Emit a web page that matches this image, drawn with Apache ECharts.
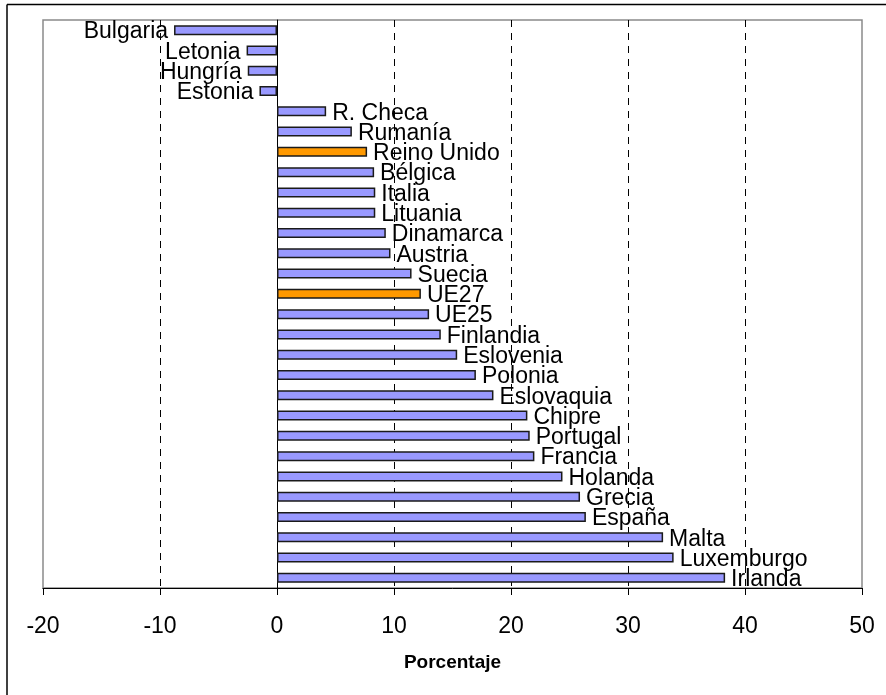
<!DOCTYPE html>
<html>
<head>
<meta charset="utf-8">
<script src="https://cdn.jsdelivr.net/npm/echarts@6/dist/echarts.min.js"></script>
<style>
  html, body { margin: 0; padding: 0; background: #fff; }
  #chart { width: 886px; height: 695px; }
</style>
</head>
<body>
<div id="chart"></div>
<script>
// Countries, top to bottom
const countries = [
  'Bulgaria', 'Letonia', 'Hungría', 'Estonia', 'R. Checa', 'Rumanía',
  'Reino Unido', 'Bélgica', 'Italia', 'Lituania', 'Dinamarca', 'Austria',
  'Suecia', 'UE27', 'UE25', 'Finlandia', 'Eslovenia', 'Polonia',
  'Eslovaquia', 'Chipre', 'Portugal', 'Francia', 'Holanda', 'Grecia',
  'España', 'Malta', 'Luxemburgo', 'Irlanda'
];

// Percentage per country (same order)
const percentages = [
  -8.8, -2.6, -2.5, -1.5, 4.2, 6.4,
  7.7, 8.3, 8.4, 8.4, 9.3, 9.7,
  11.5, 12.3, 13.0, 14.0, 15.4, 17.0,
  18.5, 21.4, 21.6, 22.0, 24.4, 25.9,
  26.4, 33.0, 33.9, 38.3
];

// Bars drawn in the highlight colour
const highlighted = ['Reino Unido', 'UE27'];

// Value axis ticks
const axisMin = -20;
const axisMax = 50;
const axisStep = 10;
const axisTitle = 'Porcentaje';

const chart = echarts.init(document.getElementById('chart'));

const barData = percentages.map((v, i) => ({
  value: v,
  itemStyle: { color: highlighted.includes(countries[i]) ? '#FF9900' : '#9999FF' },
  label: { position: v < 0 ? 'left' : 'right' }
}));

chart.setOption({
  animation: false,
  backgroundColor: '#ffffff',
  grid: {
    left: 43, right: 24, top: 20, bottom: 107,
    show: true,
    borderColor: '#8a8a8a',
    borderWidth: 1.5,
    containLabel: false
  },
  xAxis: {
    type: 'value',
    min: axisMin, max: axisMax, interval: axisStep,
    name: axisTitle,
    nameLocation: 'middle',
    nameGap: 65,
    nameTextStyle: {
      fontFamily: 'Liberation Sans, Arial, sans-serif',
      fontSize: 19, fontWeight: 'bold', color: '#000'
    },
    axisLine: { show: true, onZero: false, lineStyle: { color: '#000', width: 1 } },
    axisTick: { show: true, length: 7, inside: false, lineStyle: { color: '#000', width: 1 } },
    axisLabel: {
      margin: 27,
      fontFamily: 'Liberation Sans, Arial, sans-serif',
      fontSize: 23, color: '#000'
    },
    splitLine: {
      show: true,
      showMinLine: false,
      showMaxLine: false,
      lineStyle: { color: '#000', width: 1, type: [7, 6] }
    }
  },
  yAxis: {
    type: 'category',
    data: countries,
    inverse: true,
    axisLine: { show: true, onZero: true, lineStyle: { color: '#000', width: 1 } },
    axisTick: { show: false },
    axisLabel: { show: false },
    splitLine: { show: false }
  },
  series: [{
    type: 'bar',
    data: barData,
    barWidth: 10,
    itemStyle: { borderColor: '#1a1a1a', borderWidth: 1.5 },
    label: {
      show: true,
      formatter: p => p.name,
      distance: 6,
      offset: [0, 2],
      fontFamily: 'Liberation Sans, Arial, sans-serif',
      fontSize: 23,
      color: '#000'
    },
    z: 3
  }],
  graphic: [
    { type: 'line', shape: { x1: 7, y1: 4.5, x2: 886, y2: 4.5 }, style: { stroke: '#000', lineWidth: 1.5 }, silent: true },
    { type: 'line', shape: { x1: 7, y1: 4.5, x2: 7, y2: 695 }, style: { stroke: '#000', lineWidth: 1.5 }, silent: true }
  ]
});
</script>
</body>
</html>
